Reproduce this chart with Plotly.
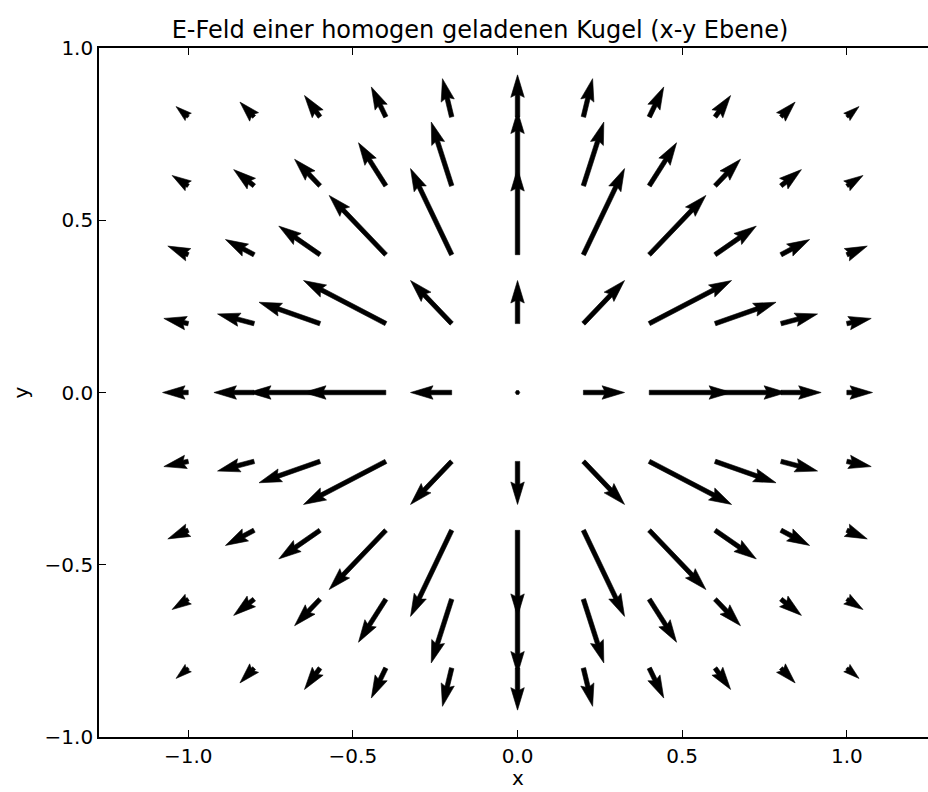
import math
import plotly.graph_objects as go

# ---------------- data ----------------
x_vals = [-1.0, -0.8, -0.6, -0.4, -0.2, 0.0, 0.2, 0.4, 0.6, 0.8, 1.0]
y_vals = [-0.8, -0.6, -0.4, -0.2, 0.0, 0.2, 0.4, 0.6, 0.8]

# U[j][i], V[j][i]: field components at (x_vals[i], y_vals[j])
U = [
    [-0.037, -0.043, -0.047, -0.044, -0.028, 0.0, 0.028, 0.044, 0.047, 0.043, 0.037],
    [-0.049, -0.062, -0.077, -0.083, -0.062, 0.0, 0.062, 0.083, 0.077, 0.062, 0.049],
    [-0.062, -0.087, -0.125, -0.172, -0.125, 0.0, 0.125, 0.172, 0.125, 0.087, 0.062],
    [-0.074, -0.111, -0.185, -0.250, -0.125, 0.0, 0.125, 0.250, 0.185, 0.111, 0.074],
    [-0.078, -0.122, -0.217, -0.250, -0.125, 0.0, 0.125, 0.250, 0.217, 0.122, 0.078],
    [-0.074, -0.111, -0.185, -0.250, -0.125, 0.0, 0.125, 0.250, 0.185, 0.111, 0.074],
    [-0.062, -0.087, -0.125, -0.172, -0.125, 0.0, 0.125, 0.172, 0.125, 0.087, 0.062],
    [-0.049, -0.062, -0.077, -0.083, -0.062, 0.0, 0.062, 0.083, 0.077, 0.062, 0.049],
    [-0.037, -0.043, -0.047, -0.044, -0.028, 0.0, 0.028, 0.044, 0.047, 0.043, 0.037],
]
V = [
    [-0.030, -0.043, -0.062, -0.087, -0.111, -0.122, -0.111, -0.087, -0.062, -0.043, -0.030],
    [-0.030, -0.047, -0.077, -0.125, -0.185, -0.217, -0.185, -0.125, -0.077, -0.047, -0.030],
    [-0.025, -0.044, -0.083, -0.172, -0.250, -0.250, -0.250, -0.172, -0.083, -0.044, -0.025],
    [-0.015, -0.028, -0.062, -0.125, -0.125, -0.125, -0.125, -0.125, -0.062, -0.028, -0.015],
    [0.0, 0.0, 0.0, 0.0, 0.0, 0.0, 0.0, 0.0, 0.0, 0.0, 0.0],
    [0.015, 0.028, 0.062, 0.125, 0.125, 0.125, 0.125, 0.125, 0.062, 0.028, 0.015],
    [0.025, 0.044, 0.083, 0.172, 0.250, 0.250, 0.250, 0.172, 0.083, 0.044, 0.025],
    [0.030, 0.047, 0.077, 0.125, 0.185, 0.217, 0.185, 0.125, 0.077, 0.047, 0.030],
    [0.030, 0.043, 0.062, 0.087, 0.111, 0.122, 0.111, 0.087, 0.062, 0.043, 0.030],
]

tick_vals = [-1.0, -0.5, 0.0, 0.5, 1.0]
tick_text = ["\u22121.0", "\u22120.5", "0.0", "0.5", "1.0"]

title_text = "E-Feld einer homogen geladenen Kugel (x-y Ebene)"

# ---------------- layout geometry ----------------
W, H = 928, 792
ML, MR, MT, MB = 99, 0, 48, 55
PW, PH = W - ML - MR, H - MT - MB
XMIN = -1.271
SX = 329.3
XMAX = XMIN + PW / SX
YMIN, YMAX = -1.0, 1.0
SY = PH / (YMAX - YMIN)

FONT = "DejaVu Sans"

# quiver arrow shape (matplotlib style, units of shaft width)
SHAFT = 4.5          # px
HEADW, HEADL, HEADAX = 3.0, 5.0, 4.5
MINSH = 1.0 * HEADL
MINLEN = 1.0


def arrow_polygon(x0, y0, u, v):
    dxp, dyp = u * SX, v * SY
    L = math.hypot(dxp, dyp) / SHAFT
    if L < MINLEN:
        pts = [(math.cos(k * math.pi / 3) * MINLEN * 0.5,
                math.sin(k * math.pi / 3) * MINLEN * 0.5) for k in range(7)]
        ang = 0.0
    else:
        ang = math.atan2(dyp, dxp)
        if L < MINSH:
            xs = [0, MINSH - HEADAX, MINSH - HEADL, MINSH]
            s = L / MINSH
        else:
            xs = [0, L - HEADAX, L - HEADL, L]
            s = 1.0
        ys = [0.5, 0.5, 0.5 * HEADW, 0.0]
        idx = [0, 1, 2, 3, 2, 1, 0, 0]
        sg = [1, 1, 1, 1, -1, -1, -1, 1]
        pts = [(xs[i] * s, ys[i] * sg[k] * s) for k, i in enumerate(idx)]
    ca, sa = math.cos(ang), math.sin(ang)
    X, Y = [], []
    for px, py in pts:
        px *= SHAFT
        py *= SHAFT
        rx = px * ca - py * sa
        ry = px * sa + py * ca
        X.append(x0 + rx / SX)
        Y.append(y0 + ry / SY)
    return X, Y


fig = go.Figure()
for j, yv in enumerate(y_vals):
    for i, xv in enumerate(x_vals):
        X, Y = arrow_polygon(xv, yv, U[j][i], V[j][i])
        fig.add_trace(go.Scatter(
            x=X, y=Y, mode="lines", fill="toself",
            fillcolor="black", line=dict(color="black", width=0.6),
            hoverinfo="skip", showlegend=False,
        ))

axis_common = dict(
    showgrid=False, zeroline=False, showline=True, linecolor="black",
    linewidth=1.6, ticks="inside", ticklen=7, tickwidth=1.2,
    tickcolor="black", tickmode="array", tickvals=tick_vals,
    ticktext=tick_text, tickfont=dict(family=FONT, size=20, color="black"),
)

fig.update_layout(
    width=W, height=H,
    margin=dict(l=ML, r=MR, t=MT, b=MB, pad=0),
    paper_bgcolor="white", plot_bgcolor="white",
    title=dict(text=title_text, font=dict(family=FONT, size=24, color="black"),
               xref="paper", x=(480 - ML) / PW, xanchor="center",
               yref="container", y=1 - 30 / H, yanchor="middle"),
    xaxis=dict(range=[XMIN, XMAX], mirror="ticks", **axis_common),
    yaxis=dict(range=[YMIN, YMAX], mirror=False, **axis_common),
    showlegend=False,
)

fig.add_annotation(text="x", xref="x", x=0.0, yref="paper",
                   y=(H - MB - 792) / PH, yanchor="bottom", showarrow=False,
                   font=dict(family=FONT, size=20, color="black"))
fig.add_annotation(text="y", xref="paper", x=(20 - ML) / PW, yref="y", y=0.0,
                   xanchor="center", textangle=-90, showarrow=False,
                   font=dict(family=FONT, size=20, color="black"))

fig.write_html(
    "out.html",
    config={"displayModeBar": False},
    post_script="document.body.style.margin='0';document.body.style.overflow='hidden';",
)
